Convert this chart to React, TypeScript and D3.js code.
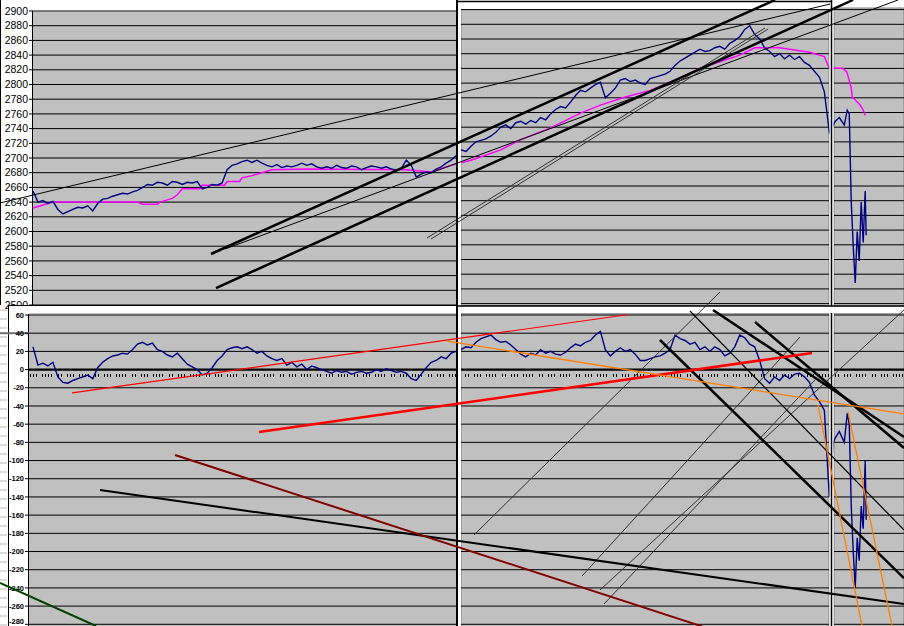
import React from 'react';
import * as d3 from 'd3';

// ---------- DATA ----------
// time index (trading days), one value per day from day 0 to day 160
const priceMain = [
  2655, 2640, 2642, 2638, 2641, 2630, 2624, 2627, 2630, 2633,
  2632, 2635, 2628, 2638, 2644, 2645, 2648, 2650, 2652, 2651,
  2654, 2656, 2660, 2664, 2663, 2667, 2666, 2663, 2668, 2667,
  2664, 2667, 2666, 2668, 2658, 2660, 2664, 2663, 2666, 2684,
  2690, 2692, 2695, 2697, 2694, 2697, 2693, 2690, 2688, 2691,
  2687, 2689, 2688, 2690, 2693, 2690, 2692, 2688, 2686, 2688,
  2686, 2690, 2687, 2686, 2689, 2688, 2684, 2687, 2689, 2688,
  2686, 2688, 2685, 2683, 2686, 2697, 2690, 2674, 2678, 2681,
  2680, 2685, 2688, 2693, 2697, 2703, 2711, 2709, 2716, 2722,
  2724, 2726, 2730, 2735, 2742, 2745, 2740, 2748, 2750, 2746,
  2751, 2748, 2755, 2752, 2760, 2766, 2770, 2768, 2776, 2785,
  2792, 2790, 2795, 2800, 2803, 2782, 2788, 2795, 2806, 2808,
  2804, 2806, 2802, 2800, 2808, 2810, 2812, 2814, 2818, 2826,
  2832, 2836, 2840, 2844, 2848, 2845, 2846, 2850, 2852, 2848,
  2856, 2860, 2865, 2875, 2880, 2868, 2862, 2850, 2845, 2838,
  2842, 2835, 2840, 2834, 2838, 2830, 2826, 2818, 2810, 2790,
  2735,
];
const tailDays = [160.8, 161.2, 162, 163, 163.6, 164, 164.4, 164.8, 165.2, 165.6, 166, 166.4, 166.8, 167.2, 167.4];
const priceTail = [2745, 2750, 2755, 2745, 2765, 2760, 2640, 2580, 2530, 2600, 2560, 2640, 2585, 2655, 2595];

const avgDays = [
  0, 2, 4, 21, 22, 25, 25.5, 28, 29, 30, 33.5, 34, 38.5, 39, 41.5, 42, 44, 46, 48, 55,
  75, 80, 84, 88, 94, 98, 104, 110, 114, 119, 124, 129, 134, 138, 142, 145, 150, 154,
  156, 158, 159, 159.5, 160, 161.1, 162.7, 163.5, 163.9, 164.4, 164.6, 165.2, 166.2, 166.8, 167.2,
];
const avgValues = [
  2632, 2636, 2640, 2640, 2637, 2637, 2640, 2645, 2650, 2658, 2658, 2663, 2663, 2668, 2668, 2673, 2676, 2680, 2684, 2685,
  2684, 2681, 2690, 2697, 2711, 2725, 2741, 2761, 2772, 2783, 2792, 2806, 2822, 2831, 2840, 2850, 2850, 2846,
  2844, 2840, 2838, 2830, 2822, 2822, 2822, 2817, 2808, 2795, 2783, 2779, 2772, 2765, 2758,
];

const oscMain = [
  25, 5, 7, 4, 8, -8, -14, -15, -12, -10,
  -8, -6, -10, 2, 8, 12, 15, 16, 18, 17,
  22, 28, 30, 27, 29, 22, 20, 16, 14, 18,
  12, 6, 3, 0, -6, -4, 2, 10, 15, 22,
  24, 25, 23, 25, 22, 18, 20, 15, 12, 10,
  12, 5, 8, 3, 6, 0, 4, 2, 0, -2,
  -4, -1, -3, -2, -5, -3, -2, -4, -3, 0,
  -2, 1, -1, -3, -2, -4, -10, -12, -5, 2,
  8, 10, 14, 12, 18, 20, 22, 25, 24, 30,
  34, 36, 38, 33, 30, 31, 27, 22, 17, 14,
  18, 16, 22, 18, 20, 17, 16, 19, 24, 28,
  26, 30, 32, 38, 42, 22, 15, 20, 24, 20,
  22, 17, 10, 10, 12, 14, 15, 18, 22, 38,
  34, 32, 28, 30, 22, 25, 20, 25, 22, 15,
  18, 25, 38, 35, 28, 25, 10, -10, -15, -8,
  -12, -6, -10, -5, -4, -8, -14, -28, -35, -45,
  -140,
];
const oscTail = [-80, -75, -68, -80, -48, -60, -150, -200, -240, -185, -210, -150, -175, -100, -165];

const priceTicks = d3.range(2500, 2901, 20);
const oscTicks = d3.range(-280, 61, 20);

// trend lines: [day1, value1, day2, value2]
const topThickBlack = [[35.76, 2569.4, 149.09, 2915], [36.77, 2523.1, 164.76, 2915]];
const topThinBlack = [[-6.63, 2638.8, 160.14, 2909.5], [38.58, 2576.2, 173.8, 2915]];
const topThinGray = [[79.16, 2591.2, 147.08, 2876.9], [79.97, 2589.8, 147.7, 2875.5]];
const botThickBlack = [[136.63, 65.5, 175, -74.1], [145.07, 52.3, 175, -86.2], [125.98, 32.5, 175, -229.3]];
const botMediumBlack = [[13.46, -132.4, 175, -257.7]];
const botThinBlack = [[132.0, 64.4, 175, -176.3]];
const botThinGray = [[88.61, -181.8, 138.03, 85.3], [110.31, -226.9, 154.11, 35.8], [113.92, -242.3, 175, 65.5], [114.73, -257.7, 157.12, -11.4]];
const botRedThin = [[7.84, -25.7, 119.35, 60.3]];
const botRedThick = [[45.41, -68.6, 156.52, 18.2]];
const botMaroon = [[28.53, -93.9, 134.42, -282.3]];
const botGreen = [[-6.63, -234.6, 12.66, -281.9]];
const botOrange = [[83.18, 31.4, 175, -48.8], [157.72, -38.9, 166.57, -281.9], [163.75, -46.6, 172.59, -281.9]];

export default function App() {
  const x = d3.scaleLinear().domain([0, 175]).range([33, 904]);
  const yA = d3.scaleLinear().domain([2500, 2900]).range([305, 11]);
  const yC = d3.scaleLinear().domain([2500, 2900]).range([303.6, 9.6]);
  const yB = d3.scaleLinear().domain([-280, 60]).range([624.3, 315]);

  const days = d3.range(priceMain.length);
  const pricePts: [number, number][] = [
    ...days.map((d) => [d, priceMain[d]] as [number, number]),
    ...tailDays.map((d, i) => [d, priceTail[i]] as [number, number]),
  ];
  const oscPts: [number, number][] = [
    ...days.map((d) => [d, oscMain[d]] as [number, number]),
    ...tailDays.map((d, i) => [d, oscTail[i]] as [number, number]),
  ];
  const avgPts: [number, number][] = avgDays.map((d, i) => [d, avgValues[i]]);

  const lineTop = d3.line<[number, number]>().x((d) => x(d[0])).y((d) => yA(d[1]));
  const lineBot = d3.line<[number, number]>().x((d) => x(d[0])).y((d) => yB(d[1]));

  const gray = '#c0c0c0';

  const gridTop = (x0: number, x1: number, y: d3.ScaleLinear<number, number>, yMin: number, key: string) =>
    priceTicks
      .filter((v) => y(v) >= yMin - 0.5 && y(v) <= 306)
      .map((v) => <line key={key + v} x1={x0} x2={x1} y1={y(v)} y2={y(v)} stroke="#000" strokeWidth={1} />);
  const gridBot = (x0: number, x1: number, key: string) =>
    oscTicks
      .filter((v) => yB(v) >= 313)
      .map((v) => (
        <line key={key + v} x1={x0} x2={x1} y1={yB(v)} y2={yB(v)} stroke="#000" strokeWidth={v === 0 ? 2.2 : 1} />
      ));

  const trendTop = (arr: number[][], color: string, w: number, k: string) =>
    arr.map((l, i) => (
      <line key={k + i} x1={x(l[0])} y1={yA(l[1])} x2={x(l[2])} y2={yA(l[3])} stroke={color} strokeWidth={w} />
    ));
  const trendBot = (arr: number[][], color: string, w: number, k: string) =>
    arr.map((l, i) => (
      <line key={k + i} x1={x(l[0])} y1={yB(l[1])} x2={x(l[2])} y2={yB(l[3])} stroke={color} strokeWidth={w} />
    ));

  const tickDash = '1 2 1 2 1 5 1 2 1 2 1 2 1 6 1 2 1 5';

  return (
    <svg
      width={904}
      height={626}
      style={{ position: 'absolute', left: 0, top: 0, display: 'block' }}
      fontFamily="Arial, 'Liberation Sans', sans-serif"
    >
      <rect x={0} y={0} width={904} height={626} fill="#fff" />
      {/* left strip remnants */}
      {d3.range(310, 626, 9).map((yy) => (
        <line key={'ls' + yy} x1={0} x2={7} y1={yy} y2={yy} stroke="#b8b8b8" strokeWidth={1} />
      ))}
      <line x1={0.5} x2={0.5} y1={0} y2={305} stroke="#000" strokeWidth={1} />

      {/* Chart A (top-left) */}
      <rect x={33} y={11} width={424} height={294} fill={gray} />
      {gridTop(33, 457, yA, 11, 'ga')}
      <line x1={33} x2={457} y1={11} y2={11} stroke="#808080" strokeWidth={1} />
      <line x1={32.5} x2={32.5} y1={11} y2={306} stroke="#000" strokeWidth={1} />
      {priceTicks.map((v) => (
        <g key={'la' + v}>
          <line x1={29} x2={33} y1={yA(v)} y2={yA(v)} stroke="#000" />
          <text x={28} y={yA(v)} dy="0.35em" fontSize={10.5} textAnchor="end" fill="#000">
            {v}
          </text>
        </g>
      ))}

      {/* Chart B box (bottom-left) */}
      <rect x={8.5} y={305.5} width={449} height={330} fill="#fff" stroke="#000" strokeWidth={1} />
      <rect x={29} y={314} width={428} height={312} fill={gray} />
      {gridBot(29, 457, 'gb')}
      <line x1={29} x2={457} y1={314} y2={314} stroke="#808080" strokeWidth={1} />
      <line x1={28.5} x2={28.5} y1={314} y2={626} stroke="#000" strokeWidth={1} />
      <line x1={0} x2={29} y1={yB(40)} y2={yB(40)} stroke="#707070" strokeWidth={2} />
      {oscTicks.map((v) => (
        <g key={'lb' + v}>
          <line x1={25} x2={29} y1={yB(v)} y2={yB(v)} stroke="#000" />
          <text x={24} y={Math.min(yB(v), 621.5)} dy="0.35em" fontSize={7.5} fontWeight="bold" textAnchor="end" fill="#000">
            {v}
          </text>
        </g>
      ))}

      {/* Chart C and E (top middle/right) */}
      <rect x={461} y={9.6} width={368} height={296} fill={gray} stroke="#808080" strokeWidth={1} />
      {gridTop(461, 829, yC, 9.6, 'gc')}
      <rect x={834} y={8} width={70} height={298} fill={gray} stroke="#808080" strokeWidth={1} />
      {gridTop(834, 904, yC, 8, 'ge')}

      {/* Chart D and F (bottom middle/right) */}
      <rect x={461} y={313} width={368} height={320} fill={gray} stroke="#808080" strokeWidth={1} />
      {gridBot(461, 829, 'gd')}
      <rect x={834} y={313} width={70} height={320} fill={gray} stroke="#808080" strokeWidth={1} />
      {gridBot(834, 904, 'gf')}

      {/* x-axis tick rows */}
      <line x1={30} x2={904} y1={375.5} y2={375.5} stroke="#000" strokeWidth={3} strokeDasharray={tickDash} />

      {/* series */}
      <path d={lineTop(avgPts) ?? ''} fill="none" stroke="#ff00ff" strokeWidth={1.5} />
      <path d={lineTop(pricePts) ?? ''} fill="none" stroke="#000080" strokeWidth={1.4} />
      <path d={lineBot(oscPts) ?? ''} fill="none" stroke="#000080" strokeWidth={1.4} />

      {/* separators */}
      <rect x={458} y={0} width={3} height={626} fill="#fff" />
      <line x1={457} x2={457} y1={0} y2={626} stroke="#000" strokeWidth={2} />
      <rect x={829.5} y={0} width={4} height={626} fill="#fff" />
      <line x1={831.5} x2={831.5} y1={0} y2={626} stroke="#000" strokeWidth={1.5} />
      <rect x={458} y={306.5} width={446} height={6.5} fill="#fff" />
      <line x1={457} x2={904} y1={306} y2={306} stroke="#000" strokeWidth={1.5} />
      <line x1={457} x2={832} y1={1.5} y2={1.5} stroke="#000" strokeWidth={1.5} />

      {/* trend lines */}
      {trendTop(topThinBlack, '#000', 1, 'ttb')}
      {trendTop(topThinGray, '#303030', 1, 'ttg')}
      {trendTop(topThickBlack, '#000', 2.5, 'tkb')}
      {trendBot(botThinGray, '#303030', 1, 'btg')}
      {trendBot(botThinBlack, '#000', 1.2, 'btb')}
      {trendBot(botMediumBlack, '#000', 2, 'bmb')}
      {trendBot(botThickBlack, '#000', 2.5, 'bkb')}
      {trendBot(botRedThin, '#ff0000', 1.2, 'brt')}
      {trendBot(botRedThick, '#ff0000', 2.5, 'brk')}
      {trendBot(botMaroon, '#800000', 2, 'bmr')}
      {trendBot(botGreen, '#004000', 2, 'bgr')}
      {trendBot(botOrange, '#ff7f00', 1.3, 'bor')}
    </svg>
  );
}
